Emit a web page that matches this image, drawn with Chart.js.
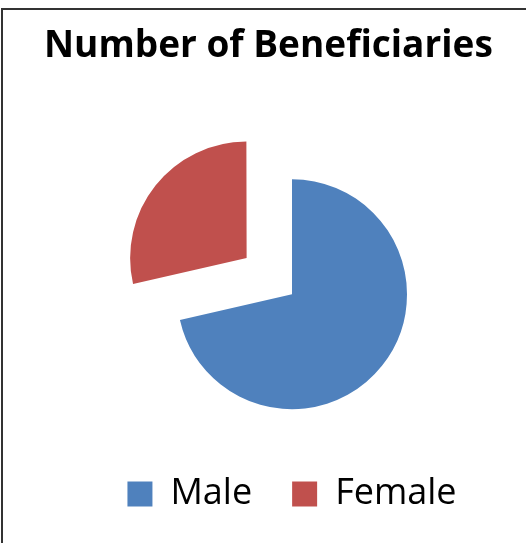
<!DOCTYPE html>
<html>
<head>
<meta charset="utf-8">
<script src="https://cdn.jsdelivr.net/npm/chart.js@4"></script>
<style>
    html, body { margin: 0; padding: 0; background: #fff; overflow: hidden; }
    #frame {
        position: absolute; left: 1px; top: 8px; width: 700px; height: 700px;
        border-left: 2px solid #333; border-top: 2px solid #333;
    }
    #wrap { position: absolute; left: 0; top: 0; width: 540px; height: 543px; }
</style>
</head>
<body>
<div id="frame"></div>
<div id="wrap"><canvas id="pieChart"></canvas></div>
<script>
const chartTitle = 'Number of Beneficiaries';
const categories = ['Male', 'Female'];
const beneficiaries = [71.4, 28.6];
const sliceColors = ['#4F81BD', '#C0504D'];
// chart.js moves a slice by offset / 4 px
const explode = [0, 232];

const ctx = document.getElementById('pieChart').getContext('2d');
const pieChart = new Chart(ctx, {
    type: 'pie',
    data: {
        labels: categories,
        datasets: [{
            data: beneficiaries,
            backgroundColor: sliceColors,
            borderWidth: 0,
            offset: explode
        }]
    },
    options: {
        responsive: true,
        maintainAspectRatio: false,
        animation: false,
        radius: 115,
        layout: { padding: { left: 44, right: 0, top: 0, bottom: 21 } },
        plugins: {
            title: {
                display: true,
                text: chartTitle,
                align: 'start',
                color: '#000',
                font: { family: 'Open Sans', size: 37, weight: 'bold' },
                padding: { top: 24, bottom: 84 }
            },
            legend: {
                position: 'bottom',
                labels: {
                    color: '#000',
                    font: { family: 'Open Sans', size: 36 },
                    boxWidth: 25,
                    boxHeight: 25,
                    padding: 40
                }
            },
            tooltip: { enabled: false }
        }
    }
});
</script>
</body>
</html>
